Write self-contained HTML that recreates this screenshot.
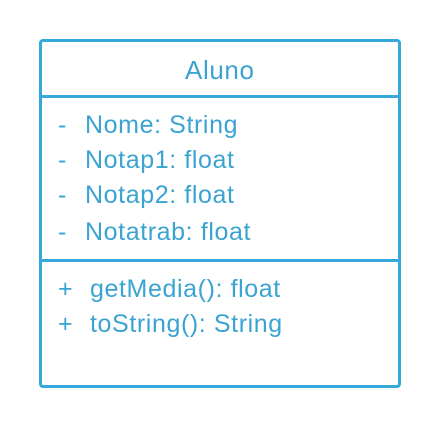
<!DOCTYPE html>
<html><head><style>
html,body{margin:0;padding:0;background:#fff;width:440px;height:429px;overflow:hidden}
.box{position:absolute;left:39px;top:39px;width:356px;height:343px;border:3px solid #35aada;border-radius:4px}
.hr{position:absolute;left:0;width:356px;height:3px;background:#35aada}
.t{position:absolute;font-family:"Liberation Sans",sans-serif;font-size:25px;letter-spacing:0.6px;color:#3aa3d2;white-space:nowrap;line-height:1}
</style></head><body>
<div class="box">
<div class="hr" style="top:53px"></div>
<div class="hr" style="top:217px"></div>
</div>
<div class="t" style="left:185px;top:57px;font-size:26px">Aluno</div>
<div class="t" style="left:58px;top:113px">-</div><div class="t" style="left:85px;top:113px">Nome: String</div>
<div class="t" style="left:58px;top:148px">-</div><div class="t" style="left:85px;top:148px">Notap1: float</div>
<div class="t" style="left:58px;top:183px">-</div><div class="t" style="left:85px;top:183px">Notap2: float</div>
<div class="t" style="left:58px;top:220px">-</div><div class="t" style="left:85px;top:220px">Notatrab: float</div>
<div class="t" style="left:58px;top:277px">+</div><div class="t" style="left:90px;top:277px">getMedia(): float</div>
<div class="t" style="left:58px;top:312px">+</div><div class="t" style="left:90px;top:312px">toString(): String</div>
</body></html>
